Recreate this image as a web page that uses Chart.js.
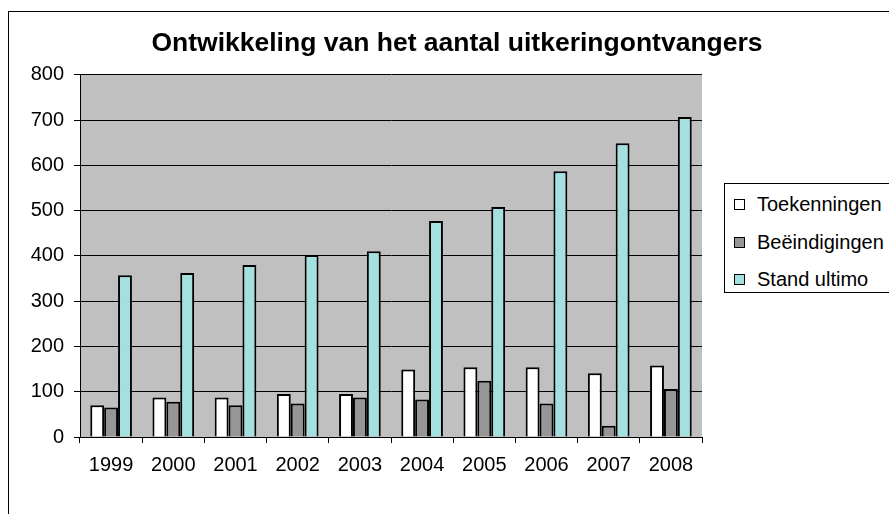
<!DOCTYPE html>
<html>
<head>
<meta charset="utf-8">
<script src="https://cdn.jsdelivr.net/npm/chart.js@4"></script>
<style>
    html, body { margin: 0; padding: 0; background: #fff; overflow: hidden; }
    #frame {
        position: absolute; left: 8px; top: 11px;
        width: 1000px; height: 1000px;
        border: 1px solid #000;
    }
    #wrap { position: absolute; left: 0; top: 0; width: 889px; height: 514px; }
    #legend {
        position: absolute; left: 724px; top: 183px;
        width: 200px; height: 108px;
        border: 1px solid #000; background: #fff;
        font-family: 'Liberation Sans', Arial, sans-serif; font-size: 20px;
    }
    #legend .item { position: absolute; left: 9px; height: 24px; line-height: 24px; white-space: nowrap; }
    #legend .box {
        display: inline-block; width: 9px; height: 9px;
        border: 1px solid #000; margin-right: 12px; vertical-align: 1px;
    }
</style>
</head>
<body>
<div id="frame"></div>
<div id="wrap"><canvas id="chart" width="889" height="514"></canvas></div>
<div id="legend"></div>

<script>
// Data
const years = ['1999', '2000', '2001', '2002', '2003', '2004', '2005', '2006', '2007', '2008'];
const toekenningen = [70, 87, 87, 95, 95, 149, 154, 154, 141, 158];
const beeindigingen = [65, 78, 70, 74, 87, 83, 124, 74, 25, 106];
const standUltimo = [357, 362, 380, 402, 410, 477, 508, 587, 649, 707];

const chartTitle = 'Ontwikkeling van het aantal uitkeringontvangers';

Chart.defaults.font.family = "'Liberation Sans', Arial, sans-serif";
Chart.defaults.color = '#000';

// grey plot background
const plotBackground = {
    id: 'plotBackground',
    beforeDraw(chart) {
        const { ctx, chartArea } = chart;
        ctx.save();
        ctx.fillStyle = '#C0C0C0';
        ctx.fillRect(chartArea.left, chartArea.top, chartArea.right - chartArea.left, chartArea.bottom - chartArea.top);
        ctx.restore();
    }
};

function makeDataset(label, data, color) {
    return {
        label: label,
        data: data,
        backgroundColor: color,
        borderColor: '#000',
        borderWidth: 2,
        categoryPercentage: 0.67,
        barPercentage: 1
    };
}

const ctx = document.getElementById('chart').getContext('2d');
const chart = new Chart(ctx, {
    type: 'bar',
    data: {
        labels: years,
        datasets: [
            makeDataset('Toekenningen', toekenningen, '#FFFFFF'),
            makeDataset('Beëindigingen', beeindigingen, '#969696'),
            makeDataset('Stand ultimo', standUltimo, '#A5E0E0')
        ]
    },
    options: {
        responsive: false,
        animation: false,
        layout: { padding: { left: 25, right: 0, top: 0, bottom: 0 } },
        plugins: {
            legend: { display: false },
            tooltip: { enabled: false },
            title: {
                display: true,
                text: chartTitle,
                font: { size: 26.5, weight: 'bold' },
                color: '#000',
                padding: { top: 28, bottom: 15 }
            }
        },
        scales: {
            x: {
                grid: {
                    drawOnChartArea: false,
                    drawTicks: true,
                    tickLength: 6,
                    color: '#000'
                },
                border: { display: true, color: '#000' },
                ticks: { font: { size: 20 }, padding: 10, color: '#000' },
                afterFit: s => { s.height = 77; }
            },
            y: {
                min: 0,
                max: 800,
                ticks: { stepSize: 100, font: { size: 20 }, padding: 10, color: '#000' },
                grid: { color: '#000', tickLength: 6 },
                border: { display: true, color: '#000' },
                afterFit: s => { s.width = 55; }
            },
            // empty space on the right, where the legend sits
            spacer: {
                type: 'linear',
                position: 'right',
                display: true,
                grid: { display: false, drawTicks: false },
                border: { display: false },
                ticks: { display: false },
                afterFit: s => { s.width = 187; }
            }
        }
    },
    plugins: [plotBackground]
});

// legend box built from the chart's datasets
const legendEl = document.getElementById('legend');
const rowTops = [8, 46, 83];
chart.data.datasets.forEach((ds, i) => {
    const item = document.createElement('div');
    item.className = 'item';
    item.style.top = rowTops[i] + 'px';
    const box = document.createElement('span');
    box.className = 'box';
    box.style.background = ds.backgroundColor;
    item.appendChild(box);
    item.appendChild(document.createTextNode(ds.label));
    legendEl.appendChild(item);
});
</script>
</body>
</html>
